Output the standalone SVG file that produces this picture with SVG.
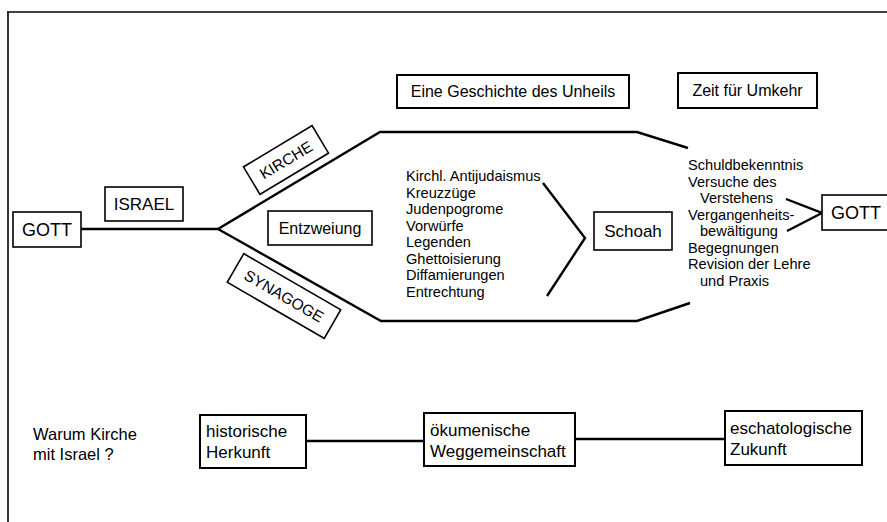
<svg xmlns="http://www.w3.org/2000/svg" width="887" height="522" viewBox="0 0 887 522">
<style>
text{font-family:"Liberation Sans",Arial,sans-serif;fill:#000}
.box{fill:#fff;stroke:#000;stroke-width:1.6}
.bx2{fill:#fff;stroke:#000;stroke-width:2}
.ln{fill:none;stroke:#000;stroke-width:2.4;stroke-linejoin:miter}
.t18{font-size:18px}
.t17{font-size:17px}
.t16{font-size:16px}
.t15{font-size:15.5px}
.tl{font-size:14.6px}
.tb{font-size:17px}
.tq{font-size:16.5px}
</style>
<rect width="887" height="522" fill="#fff"/>
<g id="frame">
<path d="M7,12 H887 M8,12 V522" fill="none" stroke="#000" stroke-width="1.6"/>
</g>
<g id="connectors">
<path class="ln" d="M81,229 H218"/>
<path class="ln" d="M218,229 L380,132 H637 L688,148"/>
<path class="ln" d="M218,229 L381,321 H637 L690,303"/>
<path class="ln" d="M543,183 L585,238 L547,296"/>
<path class="ln" d="M786,199 L822,213 L787,231"/>
<path class="ln" d="M306,441 H424"/>
<path class="ln" d="M575,439 H725"/>
</g>
<g id="gott-left">
<rect class="box" x="13" y="212" width="68" height="35"/>
<text class="t18" x="47" y="236" text-anchor="middle">GOTT</text>
</g>
<g id="israel">
<rect class="box" x="105" y="187" width="78" height="34"/>
<text class="t17" x="144" y="210" text-anchor="middle">ISRAEL</text>
</g>
<g id="entzweiung">
<rect class="box" x="268" y="211" width="104" height="34"/>
<text class="t16" x="320" y="234" text-anchor="middle">Entzweiung</text>
</g>
<g id="kirche" transform="translate(286,160) rotate(-31)">
<rect class="box" x="-40" y="-16" width="80" height="32"/>
<text class="t15" x="0" y="5.5" text-anchor="middle">KIRCHE</text>
</g>
<g id="synagoge" transform="translate(284,296) rotate(30)">
<rect class="box" x="-56" y="-16.5" width="112" height="33"/>
<text class="t15" x="0" y="5.5" text-anchor="middle">SYNAGOGE</text>
</g>
<g id="unheil">
<rect class="bx2" x="397" y="75" width="232" height="33"/>
<text class="t16" x="513" y="97" text-anchor="middle">Eine Geschichte des Unheils</text>
</g>
<g id="umkehr">
<rect class="bx2" x="678" y="73" width="139" height="35"/>
<text class="t16" x="747.5" y="96" text-anchor="middle">Zeit für Umkehr</text>
</g>
<g id="liste-unheil" class="tl">
<text x="406" y="181">Kirchl. Antijudaismus</text>
<text x="406" y="197.5">Kreuzzüge</text>
<text x="406" y="214">Judenpogrome</text>
<text x="406" y="230.5">Vorwürfe</text>
<text x="406" y="247">Legenden</text>
<text x="406" y="263.5">Ghettoisierung</text>
<text x="406" y="280">Diffamierungen</text>
<text x="406" y="296.5">Entrechtung</text>
</g>
<g id="schoah">
<rect class="box" x="594" y="212" width="78" height="38"/>
<text class="t17" x="633" y="237" text-anchor="middle">Schoah</text>
</g>
<g id="liste-umkehr" class="tl">
<text x="688" y="170">Schuldbekenntnis</text>
<text x="688" y="186.5">Versuche des</text>
<text x="700" y="203">Verstehens</text>
<text x="688" y="219.5">Vergangenheits-</text>
<text x="700" y="236">bewältigung</text>
<text x="688" y="252.5">Begegnungen</text>
<text x="688" y="269">Revision der Lehre</text>
<text x="700" y="285.5">und Praxis</text>
</g>
<g id="gott-right">
<rect class="box" x="822" y="195" width="80" height="35"/>
<text class="t18" x="831" y="219">GOTT</text>
</g>
<g id="frage" class="tq">
<text x="33" y="440">Warum Kirche</text>
<text x="33" y="460">mit Israel ?</text>
</g>
<g id="herkunft">
<rect class="bx2" x="200" y="415" width="106" height="53"/>
<text class="tb" x="206" y="437">historische</text>
<text class="tb" x="206" y="458">Herkunft</text>
</g>
<g id="weggemeinschaft">
<rect class="bx2" x="424" y="413" width="151" height="53"/>
<text class="tb" x="430" y="436">ökumenische</text>
<text class="tb" x="430" y="457">Weggemeinschaft</text>
</g>
<g id="zukunft">
<rect class="bx2" x="725" y="411" width="137" height="54"/>
<text class="tb" x="730" y="434">eschatologische</text>
<text class="tb" x="730" y="455">Zukunft</text>
</g>
</svg>
